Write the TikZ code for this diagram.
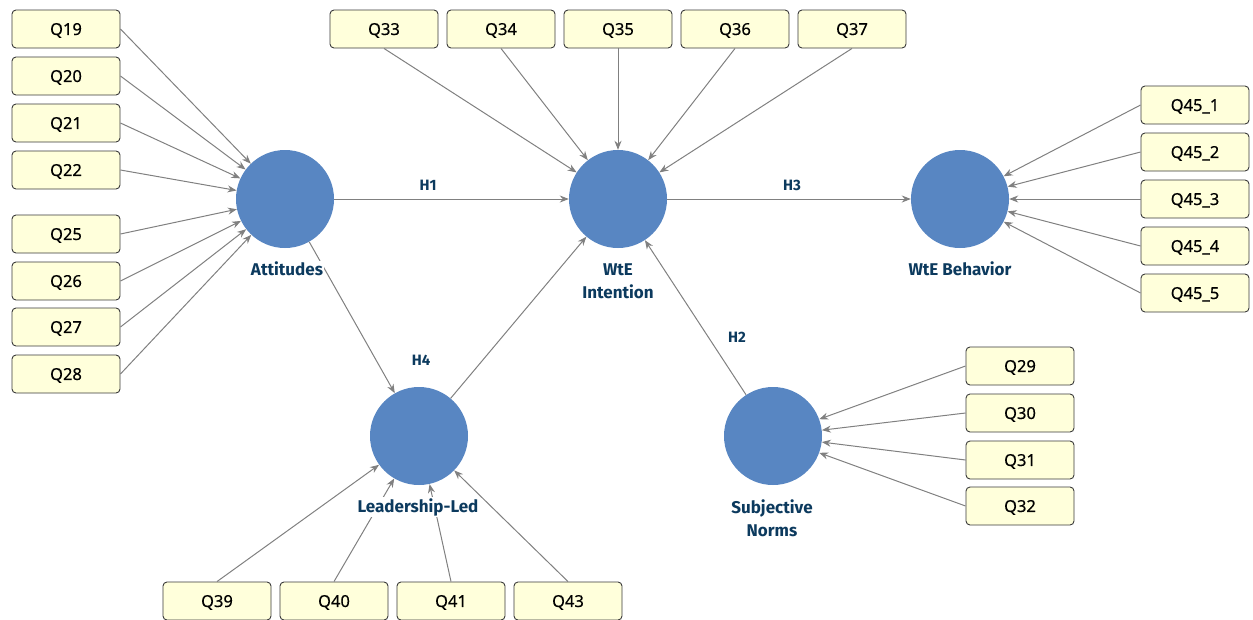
\documentclass[tikz,border=0pt]{standalone}
\usepackage{fontspec}
\setmainfont{Noto Sans}
\newfontfamily\boxfont[FakeBold=0.4]{Noto Sans}
\newfontfamily\labfont{Fira Sans}
\usetikzlibrary{arrows.meta}
\definecolor{circfill}{HTML}{5886C2}
\definecolor{boxfill}{HTML}{FFFFDB}
\definecolor{boxline}{HTML}{3A3A3A}
\definecolor{arrowc}{HTML}{808080}
\definecolor{labc}{HTML}{0C3A5E}
\tikzset{
  ind/.style={draw=boxline, fill=boxfill, rounded corners=4pt, line width=0.9pt,
    minimum width=108pt, minimum height=38pt, inner sep=0pt, text depth=0pt,
    font=\boxfont\fontsize{16.5}{18}\selectfont},
  lat/.style={circle, fill=circfill, minimum size=98pt, inner sep=0pt},
  latlab/.style={fill=white, inner sep=1pt, align=center, text=labc,
    font=\labfont\bfseries\fontsize{17}{23}\selectfont},
  hyp/.style={text=labc, inner sep=0pt, font=\labfont\bfseries\fontsize{15}{16}\selectfont},
  conn/.style={draw=arrowc, line width=1pt, -{Stealth[length=9pt,width=7pt]}}
}
\begin{document}
\begin{tikzpicture}[x=1pt,y=-1pt]
\useasboundingbox (0,0) rectangle (1253,619);
% latent variables
\node[lat] (att) at (285,199) {};
\node[lat] (int) at (618,199) {};
\node[lat] (beh) at (960,199) {};
\node[lat] (lead) at (419,436) {};
\node[lat] (sn) at (773,436) {};
% indicators: Attitudes
\node[ind] (q19) at (66,29) {Q19};
\node[ind] (q20) at (66,76) {Q20};
\node[ind] (q21) at (66,123) {Q21};
\node[ind] (q22) at (66,170) {Q22};
\node[ind] (q25) at (66,234) {Q25};
\node[ind] (q26) at (66,281) {Q26};
\node[ind] (q27) at (66,327) {Q27};
\node[ind] (q28) at (66,374) {Q28};
% indicators: Intention
\node[ind] (q33) at (384,29) {Q33};
\node[ind] (q34) at (501,29) {Q34};
\node[ind] (q35) at (618,29) {Q35};
\node[ind] (q36) at (735,29) {Q36};
\node[ind] (q37) at (852,29) {Q37};
% indicators: Behavior
\node[ind] (q451) at (1195,105) {Q45\_1};
\node[ind] (q452) at (1195,152) {Q45\_2};
\node[ind] (q453) at (1195,199) {Q45\_3};
\node[ind] (q454) at (1195,246) {Q45\_4};
\node[ind] (q455) at (1195,293) {Q45\_5};
% indicators: Subjective Norms
\node[ind] (q29) at (1020,366) {Q29};
\node[ind] (q30) at (1020,413) {Q30};
\node[ind] (q31) at (1020,460) {Q31};
\node[ind] (q32) at (1020,506) {Q32};
% indicators: Leadership
\node[ind] (q39) at (217,601) {Q39};
\node[ind] (q40) at (334,601) {Q40};
\node[ind] (q41) at (451,601) {Q41};
\node[ind] (q43) at (568,601) {Q43};
% connectors
\foreach \q in {q19,q20,q21,q22,q25,q26,q27,q28} \draw[conn] (\q.east) -- (att);
\foreach \q in {q33,q34,q35,q36,q37} \draw[conn] (\q.south) -- (int);
\foreach \q in {q451,q452,q453,q454,q455} \draw[conn] (\q.west) -- (beh);
\foreach \q in {q29,q30,q31,q32} \draw[conn] (\q.west) -- (sn);
\foreach \q in {q39,q40,q41,q43} \draw[conn] (\q.north) -- (lead);
\draw[conn] (att) -- (int);
\draw[conn] (int) -- (beh);
\draw[conn] (att) -- (lead);
\draw[conn] (lead) -- (int);
\draw[conn] (sn) -- (int);
% labels
\node[latlab] (latt) at (287,269) {Attitudes};
\node[latlab] (lint) at (618,281) {WtE\\Intention};
\node[latlab] (lbeh) at (960,269) {WtE Behavior};
\node[latlab] (llead) at (418,507) {Leadership-Led};
\node[latlab] (lsn) at (772,518) {Subjective\\Norms};
\node[hyp] (h1) at (428,185) {H1};
\node[hyp] (h3) at (792,185) {H3};
\node[hyp] (h2) at (737,337) {H2};
\node[hyp] (h4) at (421,360) {H4};
\end{tikzpicture}
\end{document}
